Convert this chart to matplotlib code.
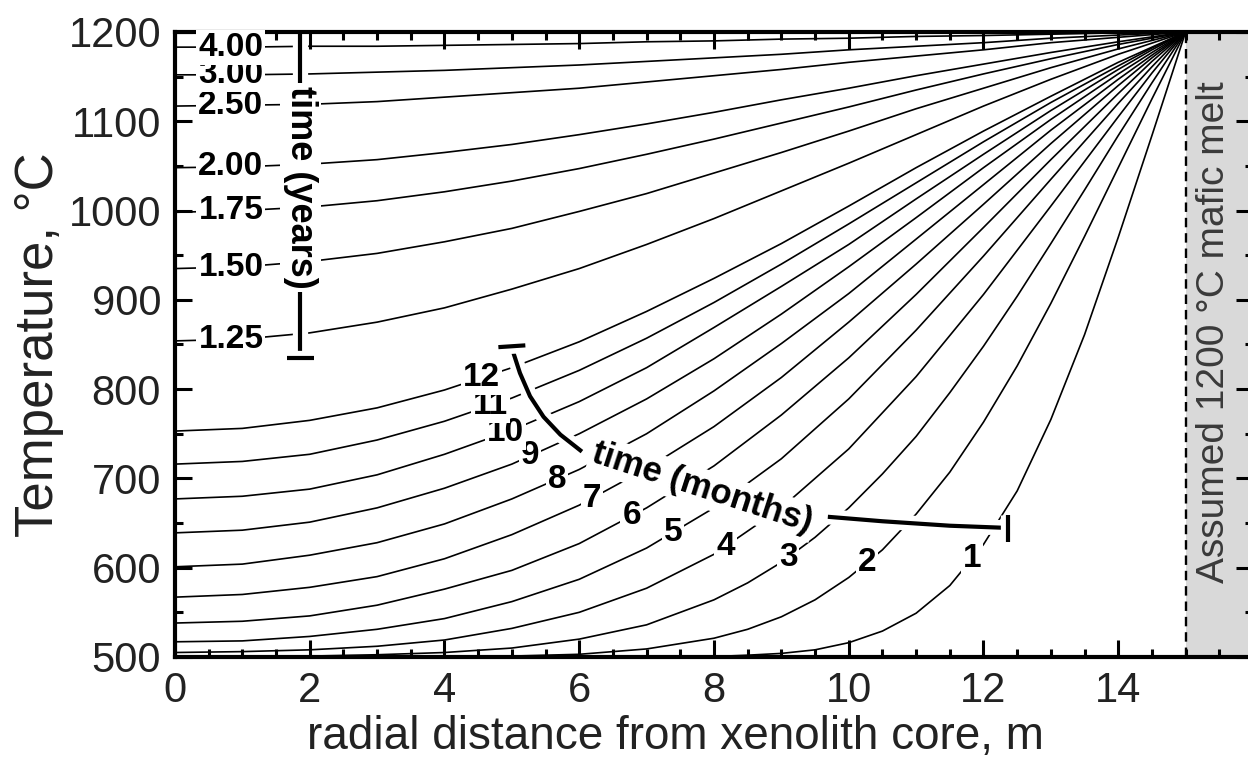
import numpy as np
import matplotlib
matplotlib.use('Agg')
import matplotlib.pyplot as plt
import matplotlib.patheffects as pe

plt.rcParams['font.family'] = ['Liberation Sans', 'DejaVu Sans']

# radial positions (m) the profiles were read at
r_fine = [0, 1, 2, 3, 4, 5, 6, 7, 8, 8.5, 9, 9.5, 10, 10.5, 11, 11.5, 12, 12.5, 13, 13.5, 14, 14.5, 15]
r_month = [0, 1, 2, 3, 4, 5, 6, 7, 8, 9, 10, 11, 12, 13, 14, 14.5, 15]
r_year = [0, 1, 2, 3, 4, 5, 6, 7, 8, 9, 10, 11, 12, 13, 14, 15]

# temperature profiles (deg C), months 1-3 on r_fine
T_m1 = [500, 500, 500, 500, 500, 500, 500, 500, 500.5, 502, 504, 508, 516, 529, 549, 580,
        626, 686, 766, 861, 970, 1084, 1200]
T_m2 = [500, 500, 500, 500, 500, 501, 503, 509, 521, 531, 545, 564, 589, 620, 660, 707,
        763, 826, 896, 971, 1048, 1125, 1200]
T_m3 = [501, 501, 501, 502.5, 505, 510, 520, 536, 564, 583, 606, 634, 667, 705, 747, 796,
        848, 904, 963, 1023, 1084, 1143, 1200]
# months 4-12 on r_month
T_m4 = [505, 506, 508, 512, 519, 532, 550, 577, 615, 667, 733, 814, 906, 1005, 1105, 1154, 1200]
T_m5 = [517, 518, 523, 531, 543, 562, 587, 622, 667, 722, 789, 866, 949, 1035, 1120, 1161, 1200]
T_m6 = [538, 540, 546, 558, 576, 597, 627, 667, 714, 771, 835, 906, 981, 1057, 1131, 1167, 1200]
T_m7 = [567, 570, 578, 590, 610, 637, 670, 711, 758, 813, 875, 940, 1007, 1075, 1140, 1171, 1200]
T_m8 = [601, 604, 614, 628, 649, 677, 710, 750, 798, 851, 907, 968, 1029, 1090, 1147, 1174, 1200]
T_m9 = [639, 642, 651, 667, 689, 716, 750, 789, 834, 884, 937, 992, 1048, 1102, 1153, 1177, 1200]
T_m10 = [677, 680, 688, 704, 727, 754, 786, 824, 869, 915, 962, 1013, 1063, 1112, 1158, 1180, 1200]
T_m11 = [716, 719, 727, 743, 764, 790, 821, 857, 897, 940, 985, 1031, 1077, 1121, 1162, 1182, 1200]
T_m12 = [753, 756, 765, 779, 799, 824, 853, 887, 924, 963, 1005, 1048, 1089, 1128, 1166, 1183, 1200]
# years on r_year
T_y125 = [854, 856, 863, 875, 891, 912, 935, 962, 991, 1022, 1053, 1085, 1117, 1147, 1175, 1200]
T_y150 = [935, 937, 943, 952, 965, 980, 999, 1019, 1042, 1065, 1089, 1114, 1137, 1160, 1181, 1200]
T_y175 = [998, 1000, 1004, 1011, 1021, 1033, 1047, 1063, 1080, 1098, 1116, 1135, 1153, 1170, 1186, 1200]
T_y200 = [1048, 1049, 1052, 1057, 1065, 1074, 1085, 1097, 1110, 1124, 1137, 1151, 1164, 1177, 1189, 1200]
T_y250 = [1117, 1118, 1119, 1122, 1127, 1132, 1137, 1144, 1151, 1158, 1166, 1173, 1180, 1188, 1194, 1200]
T_y300 = [1152, 1152, 1153, 1155, 1157, 1160, 1163, 1167, 1171, 1175, 1180, 1184, 1188, 1193, 1196.5, 1200]
T_y400 = [1183, 1183, 1184, 1184, 1185, 1186, 1187, 1189, 1190, 1192, 1193, 1195, 1196, 1197.5, 1199, 1200]

month_curves = [T_m1, T_m2, T_m3, T_m4, T_m5, T_m6, T_m7, T_m8, T_m9, T_m10, T_m11, T_m12]
month_labels = ['1', '2', '3', '4', '5', '6', '7', '8', '9', '10', '11', '12']
month_label_x = [11.83, 10.27, 9.10, 8.17, 7.39, 6.78, 6.19, 5.67, 5.27, 4.90, 4.68, 4.55]

year_curves = [T_y125, T_y150, T_y175, T_y200, T_y250, T_y300, T_y400]
year_labels = ['1.25', '1.50', '1.75', '2.00', '2.50', '3.00', '4.00']
year_label_x = 0.83

# "time" guides
years_bar_x = 1.86
years_bar_T = [835, 1200]
months_arc_x = [5.0, 5.12, 5.27, 5.47, 5.72, 6.04]
months_arc_T = [846, 818, 792, 769, 749, 730]
months_tail_x = [9.69, 10.5, 11.5, 12.37]
months_tail_T = [657, 652, 647, 644.5]

melt_edge = 15
xmax = 16

fig = plt.figure(figsize=(12.48, 7.61), dpi=100)
ax = fig.add_axes([0.1402, 0.1367, 1.004 - 0.1402, 0.958 - 0.1367])

ax.axvspan(melt_edge, xmax, color='#d9d9d9', lw=0, zorder=0)
ax.axvline(melt_edge, color='black', lw=1.7, ls=(0, (4, 2.5)), zorder=1)

for i, T in enumerate(month_curves):
    r = r_fine if i < 3 else r_month
    ax.plot(r, T, color='black', lw=1.2, zorder=2)
for T in year_curves:
    ax.plot(r_year, T, color='black', lw=1.2, zorder=2)

lab_kw = dict(ha='center', va='center', fontsize=24, fontweight='bold', zorder=6,
              bbox=dict(facecolor='white', edgecolor='none', pad=1.5))

for i, T in enumerate(month_curves):
    r = r_fine if i < 3 else r_month
    xl = month_label_x[i]
    ax.text(xl, np.interp(xl, r, T), month_labels[i], **lab_kw)

for lab, T in zip(year_labels, year_curves):
    ax.text(year_label_x, np.interp(year_label_x, r_year, T), lab, **lab_kw)

halo = [pe.Stroke(linewidth=11, foreground='white'), pe.Normal()]
guide_kw = dict(color='black', lw=3, solid_capstyle='butt', zorder=4, path_effects=halo)

# years guide
ax.plot([years_bar_x, years_bar_x], years_bar_T, **guide_kw)
ax.plot([years_bar_x - 0.2, years_bar_x + 0.2], [years_bar_T[0]] * 2, **guide_kw)
ax.text(years_bar_x, 1026, 'time (years)', rotation=270, ha='center', va='center',
        fontsize=26, fontweight='bold', zorder=7,
        bbox=dict(facecolor='white', edgecolor='none', pad=2))

# months guide
ax.plot(months_arc_x, months_arc_T, **guide_kw)
ax.plot([months_arc_x[0] - 0.2, months_arc_x[0] + 0.2],
        [months_arc_T[0] + 1, months_arc_T[0] + 3], **guide_kw)
ax.plot(months_tail_x, months_tail_T, **guide_kw)
ax.plot([months_tail_x[-1]] * 2, [629, 659], **guide_kw)
ax.text(7.83, 689, 'time (months)', rotation=-18, ha='center', va='center',
        fontsize=25, fontweight='bold', zorder=7, rotation_mode='anchor',
        bbox=dict(facecolor='white', edgecolor='none', pad=2))

ax.text(15.42, 864, 'Assumed 1200 °C mafic melt', rotation=90, ha='center', va='center',
        fontsize=28, color='#3a3a3a', zorder=3)

ax.set_xlim(0, xmax)
ax.set_ylim(500, 1200)
ax.set_xticks(np.arange(0, 15, 2))
ax.set_xticks(np.arange(0, 16.01, 0.5), minor=True)
ax.set_yticks(np.arange(500, 1201, 100))
ax.set_yticks(np.arange(500, 1201, 50), minor=True)
ax.tick_params(which='both', direction='in', top=True, right=True, width=2.2,
               labelsize=30, labelcolor='#222222', pad=10)
ax.tick_params(which='major', length=12)
ax.tick_params(which='minor', length=6)
for s in ax.spines.values():
    s.set_linewidth(3)
    s.set_zorder(5)

ax.set_xlabel('radial distance from xenolith core, m', fontsize=33, color='#222222')
ax.set_ylabel('Temperature, °C', fontsize=38, color='#222222')
ax.xaxis.set_label_coords(0.464, -0.093)
ax.yaxis.set_label_coords(-0.103, 0.5)

fig.savefig('out.png', dpi=100)
